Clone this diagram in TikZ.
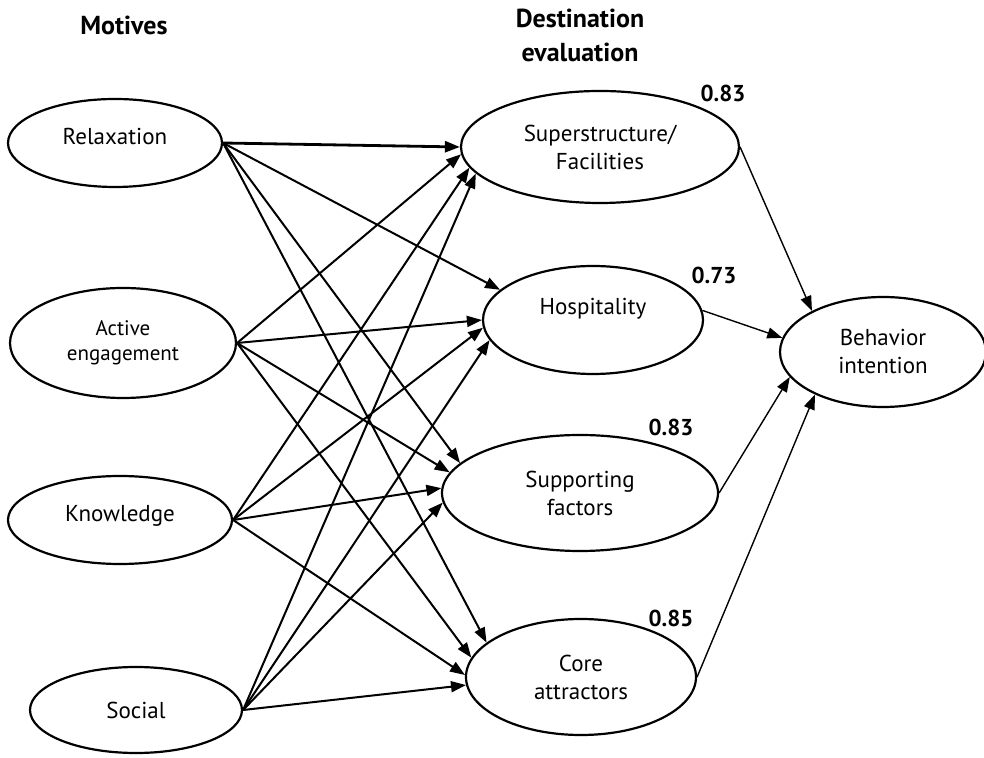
\documentclass[tikz,border=0pt]{standalone}
\usepackage{fontspec}
\setmainfont{PT Sans}
\usetikzlibrary{shapes.geometric,arrows.meta}
\begin{document}
\begin{tikzpicture}[x=1pt,y=1pt,
 ell/.style={ellipse,draw,line width=2.2pt,inner sep=0pt,align=center,font=\fontsize{23}{28}\selectfont},
 arr/.style={line width=2pt,-{Triangle[length=15pt,width=11pt]}},
 thin/.style={line width=1.4pt},
 ttl/.style={font=\bfseries\fontsize{26}{34}\selectfont,align=center},
 val/.style={font=\bfseries\fontsize{23}{26}\selectfont}]
\useasboundingbox (0,0) rectangle (984,757);
\node[ttl] (tmot) at (124,732) {Motives};
\node[ttl] (tdest) at (580,722) {Destination\\evaluation};
\node[ell,minimum width=214pt,minimum height=88pt] (relax) at (115,614) {\raisebox{-2pt}[0pt][0pt]{Relaxation}};
\node[ell,minimum width=226pt,minimum height=110pt,font=\fontsize{21}{25}\selectfont] (active) at (123,414) {Active\\engagement};
\node[ell,minimum width=224pt,minimum height=88pt] (know) at (120,237) {\raisebox{-2pt}[0pt][0pt]{Knowledge}};
\node[ell,minimum width=212pt,minimum height=86pt] (social) at (136,47) {Social};
\node[ell,minimum width=278pt,minimum height=112pt] (super) at (600,610) {Superstructure/\\Facilities};
\node[ell,minimum width=220pt,minimum height=108pt] (hosp) at (593,437) {\raisebox{5pt}[0pt][0pt]{Hospitality}};
\node[ell,minimum width=276pt,minimum height=116pt] (supp) at (580,264) {Supporting\\factors};
\node[ell,minimum width=230pt,minimum height=116pt] (core) at (581,80) {Core\\attractors};
\node[ell,minimum width=206pt,minimum height=110pt] (beh) at (883,405) {Behavior\\intention};
\node[val] (v1) at (723,664) {0.83};
\node[val] (v2) at (714,482) {0.73};
\node[val] (v3) at (671,330) {0.83};
\node[val] (v4) at (671,139) {0.85};
\draw[arr,line width=2.8pt] (relax.east) -- (super.180);
\draw[arr] (relax.east) -- (hosp.162);
\draw[arr] (relax.east) -- (supp.166);
\draw[arr] (relax.east) -- (core.160);
\draw[arr] (active.east) -- (super.183);
\draw[arr] (active.east) -- (hosp.180);
\draw[arr] (active.east) -- (supp.171);
\draw[arr] (active.east) -- (core.170);
\draw[arr] (know.east) -- (super.189);
\draw[arr] (know.east) -- (hosp.184);
\draw[arr] (know.east) -- (supp.178);
\draw[arr] (know.east) -- (core.179);
\draw[arr] (social.east) -- (super.192);
\draw[arr] (social.east) -- (hosp.191);
\draw[arr] (social.east) -- (supp.184);
\draw[arr] (social.east) -- (core.184);
\draw[arr,thin] (super.east) -- (beh.150);
\draw[arr,thin] (hosp.5) -- (beh.172);
\draw[arr,thin] (supp.east) -- (beh.195);
\draw[arr,thin] (core.east) -- (beh.212);
\end{tikzpicture}
\end{document}
